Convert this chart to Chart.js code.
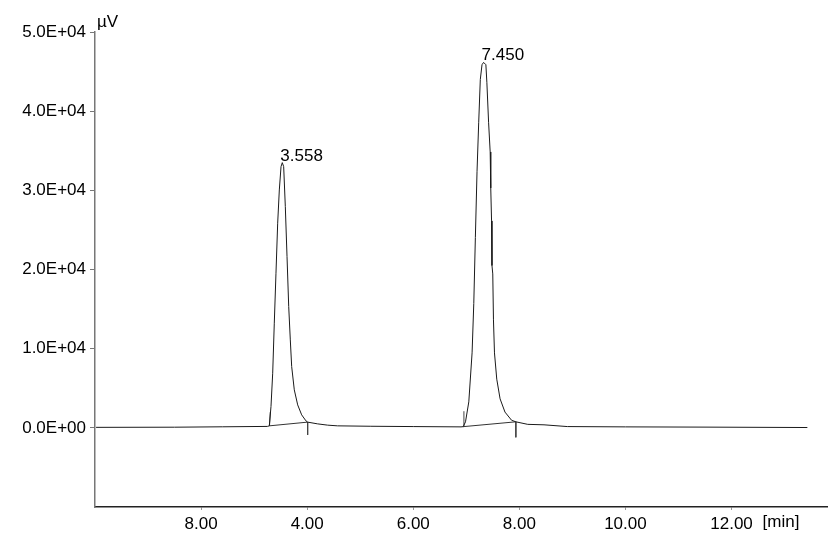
<!DOCTYPE html>
<html>
<head>
  <title>Chromatogram</title>
  <script src="https://cdn.jsdelivr.net/npm/chart.js@4.4.1/dist/chart.umd.min.js"></script>
  <style>
    body {
      margin: 0;
      background-color: #fff;
    }

    #wrap {
      width: 828px;
      height: 558px;
    }
  </style>
</head>
<body>
  <div id="wrap"><canvas id="chrom" width="828" height="558"></canvas></div>

  <script>
    // detector trace (min, µV)
    const traceTime = [0.02, 1.5, 2.4, 3.25,
      3.286, 3.318, 3.35, 3.38, 3.412, 3.444, 3.475, 3.507, 3.531,
      3.557, 3.588, 3.62, 3.652, 3.682, 3.708, 3.757, 3.821, 3.896, 3.977, 4.009,
      4.198, 4.386, 4.574, 5.2, 6.0, 6.9,
      6.942, 6.985, 7.047, 7.109, 7.141, 7.171, 7.202, 7.234, 7.264, 7.296, 7.326,
      7.369, 7.388, 7.42, 7.45, 7.461, 7.476, 7.484, 7.499, 7.512, 7.531, 7.574,
      7.637, 7.729, 7.853, 7.934, 8.158, 8.465, 8.906, 10.0, 11.5, 13.43];
    const traceSignal = [60, 80, 130, 180,
      250, 2690, 6900, 13220, 19530, 25850, 30050, 32990, 33500,
      32990, 27940, 21630, 15320, 11110, 7740, 4800, 2900, 1640, 880, 720,
      500, 340, 250, 200, 160, 120,
      150, 760, 3280, 9470, 15720, 24040, 32350, 38600, 44000, 45870, 46160,
      45870, 43590, 38600, 34850, 30300, 26140, 20500, 19440, 13640, 9470, 6150,
      3660, 1990, 960, 760, 440, 380, 160, 120, 90, 40];

    // integration baselines and start / end markers
    const base1Time = [3.286, 4.009];
    const base1Signal = [250, 720];
    const base2Time = [6.942, 7.934];
    const base2Signal = [150, 760];
    const markStartTime = [3.29, 3.305, 6.945, 6.955];
    const markStartSignal = [250, 2000, 150, 2100];
    const markEndTime = [4.009, 4.009, 7.934, 7.934];
    const markEndSignal = [720, -900, 760, -1200];

    // retention time labels
    const peakLabels = ['3.558', '7.450'];
    const peakTimes = [3.531, 7.326];
    const peakHeights = [33500, 46160];

    const xTickValues = [2, 4, 6, 8, 10, 12];
    const xTickLabels = ['8.00', '4.00', '6.00', '8.00', '10.00', '12.00'];
    const yTickValues = [0, 10000, 20000, 30000, 40000, 50000];
    const yTickLabels = ['0.0E+00', '1.0E+04', '2.0E+04', '3.0E+04', '4.0E+04', '5.0E+04'];
    const xUnit = '[min]';
    const yUnit = 'µV';

    const toPoints = (ts, vs) => ts.map((t, i) => ({ x: t, y: vs[i] }));
    const pairs = (ts, vs) => {
      const out = [];
      for (let i = 0; i < ts.length; i += 2) {
        out.push({ x: ts[i], y: vs[i] }, { x: ts[i + 1], y: vs[i + 1] }, { x: null, y: null });
      }
      return out;
    };

    const lineSet = (data, color) => ({
      data: data,
      borderColor: color,
      borderWidth: 1,
      pointRadius: 0,
      tension: 0,
      fill: false,
      spanGaps: false,
    });

    const font = '"Liberation Sans", Arial, sans-serif';
    Chart.defaults.font.family = font;
    Chart.defaults.font.size = 17;
    Chart.defaults.color = '#000';

    const X_TICK = 3, X_PAD = 4;

    const textPlugin = {
      id: 'chromText',
      afterDraw(chart) {
        const { ctx, scales: { x, y } } = chart;
        ctx.save();
        ctx.fillStyle = '#000';
        ctx.font = '17px ' + font;
        ctx.textAlign = 'left';
        ctx.textBaseline = 'alphabetic';
        peakLabels.forEach((lab, i) => {
          ctx.fillText(lab, x.getPixelForValue(peakTimes[i]) - 2, y.getPixelForValue(peakHeights[i]) - 2);
        });
        ctx.fillText(yUnit, y.right + 2, y.top - 5);
        ctx.textBaseline = 'top';
        ctx.fillText(xUnit, x.getPixelForValue(12) + 31, x.top + X_TICK + X_PAD);
        ctx.restore();
      }
    };

    new Chart(document.getElementById('chrom').getContext('2d'), {
      type: 'line',
      data: {
        datasets: [
          lineSet(toPoints(traceTime, traceSignal), '#1a1a1a'),
          lineSet(toPoints(base1Time, base1Signal), '#333'),
          lineSet(toPoints(base2Time, base2Signal), '#333'),
          lineSet(pairs(markStartTime, markStartSignal), '#444'),
          lineSet(pairs(markEndTime, markEndSignal), '#444'),
        ],
      },
      options: {
        responsive: false,
        animation: false,
        devicePixelRatio: 1,
        layout: { padding: { top: 32, right: 1, left: 0, bottom: 0 } },
        plugins: {
          legend: { display: false },
          tooltip: { enabled: false },
        },
        scales: {
          x: {
            type: 'linear',
            min: 0,
            max: 13.8,
            afterFit: (s) => { s.height = 51; },
            afterBuildTicks: (s) => { s.ticks = xTickValues.map(v => ({ value: v })); },
            ticks: {
              autoSkip: false,
              maxRotation: 0,
              padding: X_PAD,
              callback: (v) => xTickLabels[xTickValues.indexOf(v)],
            },
            grid: { drawOnChartArea: false, drawTicks: true, tickLength: X_TICK, color: '#999' },
            border: { display: true, color: '#222', width: 1.5 },
          },
          y: {
            min: -10000,
            max: 50000,
            afterFit: (s) => { s.width = 95; },
            afterBuildTicks: (s) => { s.ticks = yTickValues.map(v => ({ value: v })); },
            ticks: {
              autoSkip: false,
              padding: 4,
              callback: (v) => yTickLabels[yTickValues.indexOf(v)],
            },
            grid: { drawOnChartArea: false, drawTicks: true, tickLength: 5, color: '#777' },
            border: { display: true, color: '#777', width: 1.5 },
          },
        },
      },
      plugins: [textPlugin],
    });
  </script>
</body>
</html>
